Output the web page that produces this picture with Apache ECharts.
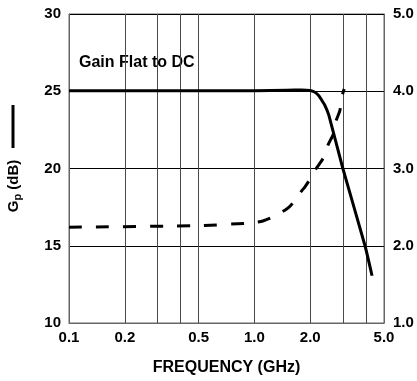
<!DOCTYPE html>
<html>
<head>
<meta charset="UTF-8">
<title>Gp / VSWR vs Frequency</title>
<script src="https://cdn.jsdelivr.net/npm/echarts@6/dist/echarts.min.js"></script>
<style type="text/css">
html, body {
	width: 100%;
	height: 100%;
	padding: 0px;
	margin: 0px;
	background: #fff;
}
</style>
</head>
<body>
	<div id="chart" style="width: 417px; height: 381px;"></div>

	<script type="text/javascript">
        // x axis (log) ticks and labels
        var freqLabels = [0.1, 0.2, 0.5, 1.0, 2.0, 5.0];
        var freqGrid = [0.1, 0.2, 0.3, 0.4, 0.5, 1.0, 2.0, 3.0, 4.0, 5.0];

        // Gp (dB), solid line, left axis
        var gpFreq = [0.1, 0.5, 1.0, 1.5, 1.8, 2.0, 2.11, 2.22, 2.3, 2.4, 2.52, 3.0, 3.95, 4.31];
        var gpValues = [25.03, 25.03, 25.04, 25.07, 25.08, 25.05, 24.95, 24.73, 24.45, 24.09, 23.45, 20.0, 15.0, 13.06];

        // right axis curve, dashed line
        var rFreq = [0.1, 0.5, 0.89, 1.0, 1.11, 1.25, 1.46, 1.57, 1.77, 1.87, 1.97, 2.14, 2.36, 2.5, 2.67, 2.74, 2.89, 2.97, 3.05];
        var rValues = [2.24, 2.26, 2.29, 2.30, 2.32, 2.37, 2.46, 2.52, 2.69, 2.76, 2.84, 2.99, 3.14, 3.31, 3.45, 3.6, 3.75, 3.94, 4.03];

        var FONT = 'Liberation Sans, Arial, sans-serif';

        function pairs(xs, ys) {
            return xs.map(function (x, i) { return [x, ys[i]]; });
        }

        var myChart = echarts.init(document.getElementById('chart'));

        myChart.setOption({
            animation: false,
            backgroundColor: '#fff',
            grid: {
                left: 69, right: 33, top: 14, bottom: 54,
                show: true,
                borderColor: '#666',
                borderWidth: 1
            },
            xAxis: {
                type: 'log',
                logBase: 10,
                min: 0.1,
                max: 5,
                name: 'FREQUENCY (GHz)',
                nameLocation: 'middle',
                nameGap: 37,
                nameTextStyle: { color: '#000', fontSize: 16, fontWeight: 'bold', fontFamily: FONT },
                axisLine: { show: true, lineStyle: { color: '#666', width: 1 } },
                axisTick: { show: false, customValues: freqGrid },
                axisLabel: {
                    customValues: freqLabels,
                    color: '#000', fontSize: 15, fontWeight: 'bold', fontFamily: FONT,
                    margin: 7,
                    formatter: function (v) { return (+v).toFixed(1); }
                },
                splitLine: { show: true, lineStyle: { color: '#4a4a4a', width: 1 } },
                minorSplitLine: { show: false }
            },
            yAxis: [{
                type: 'value',
                min: 10, max: 30, interval: 5,
                axisLine: { show: true, lineStyle: { color: '#666' } },
                axisTick: { show: false },
                axisLabel: { color: '#000', fontSize: 15, fontWeight: 'bold', fontFamily: FONT, margin: 8 },
                splitLine: { show: true, lineStyle: { color: '#000', width: 1 } }
            }, {
                type: 'value',
                position: 'right',
                min: 1, max: 5, interval: 1,
                axisLine: { show: true, lineStyle: { color: '#666' } },
                axisTick: { show: false },
                axisLabel: {
                    color: '#000', fontSize: 15, fontWeight: 'bold', fontFamily: FONT, margin: 9,
                    formatter: function (v) { return v.toFixed(1); }
                },
                splitLine: { show: false }
            }],
            series: [{
                name: 'Gp',
                type: 'line',
                yAxisIndex: 0,
                data: pairs(gpFreq, gpValues),
                showSymbol: false,
                smooth: 0.15,
                lineStyle: { color: '#000', width: 3 }
            }, {
                name: 'R',
                type: 'line',
                yAxisIndex: 1,
                data: pairs(rFreq, rValues),
                showSymbol: false,
                smooth: 0.2,
                lineStyle: { color: '#000', width: 3, type: [13, 14] }
            }],
            graphic: [{
                type: 'text',
                left: 79,
                top: 55,
                style: { text: 'Gain Flat to DC', fill: '#000', font: 'bold 16px ' + FONT }
            }, {
                type: 'text',
                x: 14,
                y: 186,
                rotation: Math.PI / 2,
                style: {
                    text: '{a|G}{s|p}{a| (dB)}',
                    align: 'center',
                    verticalAlign: 'middle',
                    rich: {
                        a: { fill: '#000', fontSize: 15, fontWeight: 'bold', fontFamily: FONT, lineHeight: 18 },
                        s: { fill: '#000', fontSize: 11, fontWeight: 'bold', fontFamily: FONT, lineHeight: 12, padding: [6, 0, 0, 0], verticalAlign: 'bottom' }
                    }
                }
            }, {
                type: 'line',
                shape: { x1: 13, y1: 105, x2: 13, y2: 148 },
                style: { stroke: '#000', lineWidth: 3 }
            }]
        });
	</script>
</body>
</html>
